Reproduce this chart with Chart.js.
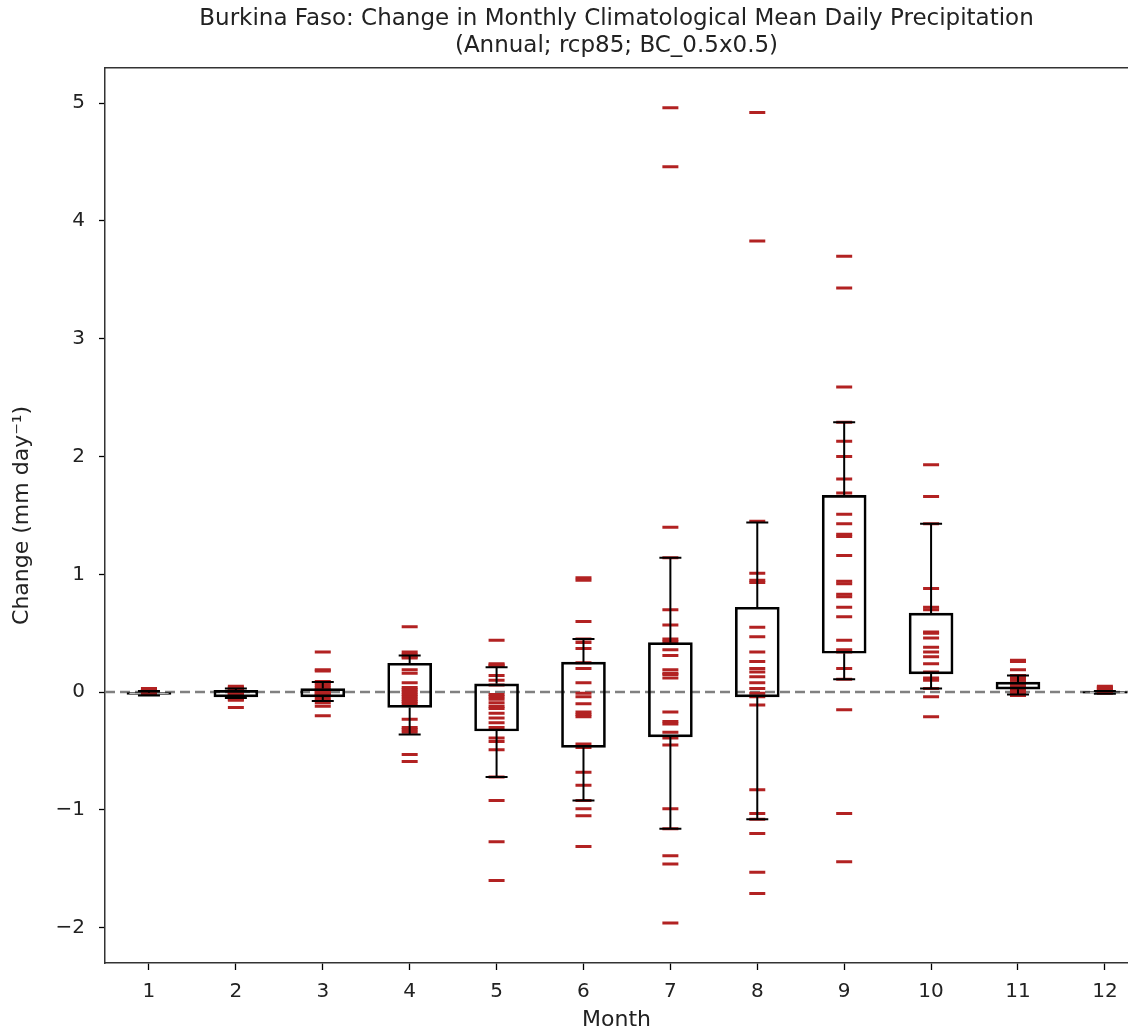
<!DOCTYPE html>
<html>
<head>
<meta charset="utf-8">
<title>Burkina Faso precipitation change</title>
<script src="https://cdn.jsdelivr.net/npm/chart.js@4"></script>
<style>
  html, body { margin: 0; padding: 0; background: #fff; overflow: hidden; }
  #wrap { width: 1128px; height: 1034px; }
</style>
</head>
<body>
<div id="wrap"><canvas id="precipChart" width="1128" height="1034"></canvas></div>
<script>
const months = [1, 2, 3, 4, 5, 6, 7, 8, 9, 10, 11, 12];
const yTicks = [-2, -1, 0, 1, 2, 3, 4, 5];

// box edges (25th / 75th) and whisker ends
const boxLow = [-0.02, -0.04, -0.04, -0.13, -0.33, -0.47, -0.38, -0.04, 0.33, 0.155, 0.025, -0.01];
const boxHigh = [-0.005, 0.015, 0.03, 0.245, 0.07, 0.255, 0.42, 0.72, 1.67, 0.67, 0.085, 0.005];
const whiskerLow = [-0.03, -0.05, -0.075, -0.36, -0.72, -0.92, -1.16, -1.08, 0.11, 0.03, -0.02, -0.015];
const whiskerHigh = [0.01, 0.03, 0.085, 0.31, 0.21, 0.45, 1.14, 1.44, 2.29, 1.43, 0.14, 0.01];

// individual model changes per month
const jan = [0.03, 0.02, 0.02, 0.01, 0.01, 0.0, 0.0, -0.01, -0.01, -0.02, 0.02, 0.01, 0.03];
const feb = [0.05, 0.04, 0.03, 0.02, 0.01, 0.0, -0.01, -0.02, -0.03, -0.04, -0.05, -0.06, -0.07, -0.13, 0.02, 0.0, -0.02];
const mar = [0.34, 0.19, 0.18, 0.09, 0.08, 0.06, 0.04, 0.02, 0.0, -0.01, -0.03, -0.05, -0.07, -0.09, -0.12, -0.2, 0.01, -0.02];
const apr = [0.555, 0.34, 0.32, 0.3, 0.29, 0.19, 0.16, 0.08, 0.04, 0.02, 0.0, -0.02, -0.04, -0.06, -0.08, -0.1, -0.23, -0.3, -0.32, -0.34, -0.53, -0.59];
const may = [0.44, 0.24, 0.23, 0.22, 0.14, 0.1, 0.06, -0.02, -0.04, -0.06, -0.09, -0.12, -0.14, -0.18, -0.22, -0.26, -0.3, -0.39, -0.42, -0.49, -0.72, -0.92, -1.27, -1.6];
const jun = [0.97, 0.95, 0.6, 0.45, 0.42, 0.37, 0.25, 0.2, 0.08, -0.01, -0.04, -0.1, -0.17, -0.19, -0.21, -0.44, -0.47, -0.68, -0.79, -0.92, -0.99, -1.05, -1.31];
const jul = [4.96, 4.46, 1.4, 1.14, 0.7, 0.57, 0.45, 0.43, 0.36, 0.31, 0.19, 0.16, 0.15, 0.12, -0.17, -0.25, -0.27, -0.34, -0.39, -0.45, -0.99, -1.16, -1.39, -1.46, -1.96];
const aug = [4.92, 3.83, 1.45, 1.01, 0.95, 0.93, 0.55, 0.47, 0.34, 0.26, 0.2, 0.17, 0.13, 0.08, 0.03, -0.01, -0.04, -0.11, -0.83, -1.03, -1.08, -1.2, -1.53, -1.71];
const sep = [3.7, 3.43, 2.59, 2.29, 2.13, 2.0, 1.81, 1.69, 1.51, 1.43, 1.34, 1.32, 1.16, 0.94, 0.92, 0.83, 0.81, 0.72, 0.64, 0.44, 0.36, 0.34, 0.2, 0.11, -0.15, -1.03, -1.44];
const oct = [1.93, 1.66, 1.43, 0.88, 0.72, 0.7, 0.51, 0.5, 0.46, 0.38, 0.34, 0.3, 0.24, 0.17, 0.12, 0.1, 0.03, -0.04, -0.21];
const nov = [0.27, 0.26, 0.19, 0.14, 0.12, 0.1, 0.08, 0.06, 0.04, 0.02, 0.0, -0.02, -0.03];
const dec = [0.05, 0.04, 0.03, 0.02, 0.01, 0.0, -0.01];
const memberValues = [jan, feb, mar, apr, may, jun, jul, aug, sep, oct, nov, dec];

const textColor = "#222222";
const minusSign = (v) => String(v).replace("-", "\u2212");

const memberPoints = memberValues.flatMap((vals, i) =>
  vals.map((v) => ({ x: months[i], y: v }))
);
const boxes = months.map((m, i) => ({ x: m, y: [boxLow[i], boxHigh[i]] }));

// dashed zero line, top frame and whiskers
const extras = {
  id: "extras",
  beforeDatasetsDraw(chart) {
    const { ctx, chartArea, scales } = chart;
    const y0 = scales.y.getPixelForValue(0);
    ctx.save();
    ctx.strokeStyle = "#808080";
    ctx.lineWidth = 2.5;
    ctx.setLineDash([10, 5]);
    ctx.beginPath();
    ctx.moveTo(chartArea.left, y0);
    ctx.lineTo(chartArea.right, y0);
    ctx.stroke();
    ctx.restore();
  },
  afterDatasetsDraw(chart) {
    const { ctx, chartArea, scales } = chart;
    ctx.save();
    ctx.strokeStyle = "#000";
    ctx.lineWidth = 2;
    months.forEach((m, i) => {
      const x = scales.x.getPixelForValue(m);
      const lo = scales.y.getPixelForValue(whiskerLow[i]);
      const hi = scales.y.getPixelForValue(whiskerHigh[i]);
      const bLo = scales.y.getPixelForValue(boxLow[i]);
      const bHi = scales.y.getPixelForValue(boxHigh[i]);
      ctx.beginPath();
      ctx.moveTo(x, bHi);
      ctx.lineTo(x, hi);
      ctx.moveTo(x, bLo);
      ctx.lineTo(x, lo);
      ctx.moveTo(x - 11, hi);
      ctx.lineTo(x + 11, hi);
      ctx.moveTo(x - 11, lo);
      ctx.lineTo(x + 11, lo);
      ctx.stroke();
    });
    ctx.strokeStyle = "#333";
    ctx.lineWidth = 1.5;
    ctx.beginPath();
    ctx.moveTo(chartArea.left, chartArea.top);
    ctx.lineTo(chartArea.right, chartArea.top);
    ctx.stroke();
    ctx.restore();
  },
};

const ctx = document.getElementById("precipChart").getContext("2d");

new Chart(ctx, {
  type: "scatter",
  data: {
    datasets: [
      {
        type: "bar",
        label: "Inter-quartile range",
        data: boxes,
        backgroundColor: "rgba(0, 0, 0, 0)",
        borderColor: "#000",
        borderWidth: 2,
        borderSkipped: false,
        barThickness: 44,
        order: 0,
      },
      {
        type: "scatter",
        label: "Models",
        data: memberPoints,
        pointStyle: "line",
        radius: 8,
        borderWidth: 3,
        borderColor: "#B22222",
        backgroundColor: "#B22222",
        order: 1,
      },
    ],
  },
  plugins: [extras],
  options: {
    responsive: false,
    animation: false,
    events: [],
    layout: { autoPadding: false, padding: { left: 0, right: 0, top: 0, bottom: 0 } },
    plugins: {
      legend: { display: false },
      tooltip: { enabled: false },
      title: {
        display: true,
        fullSize: false,
        text: [
          "Burkina Faso: Change in Monthly Climatological Mean Daily Precipitation",
          "(Annual; rcp85; BC_0.5x0.5)",
        ],
        color: textColor,
        font: { family: "DejaVu Sans", size: 23, weight: "normal", lineHeight: 1.17 },
        padding: { top: 6, bottom: 8 },
      },
    },
    scales: {
      x: {
        type: "linear",
        min: 0.494,
        max: 12.266,
        offset: false,
        afterBuildTicks: (axis) => {
          axis.ticks = months.map((m) => ({ value: m }));
        },
        afterFit: (axis) => {
          axis.height = 71;
          axis.paddingRight = 0;
        },
        ticks: {
          color: textColor,
          font: { family: "DejaVu Sans", size: 20 },
          padding: 10,
          maxRotation: 0,
        },
        grid: {
          display: true,
          offset: false,
          drawOnChartArea: false,
          drawTicks: true,
          tickLength: 7,
          tickWidth: 1.3,
          color: "#000",
        },
        border: { display: true, color: "#333", width: 1.5 },
        title: {
          display: true,
          text: "Month",
          color: textColor,
          font: { family: "DejaVu Sans", size: 22 },
          padding: { top: 0, bottom: 1 },
        },
      },
      y: {
        min: -2.3,
        max: 5.3,
        afterBuildTicks: (axis) => {
          axis.ticks = yTicks.map((v) => ({ value: v }));
        },
        afterFit: (axis) => {
          axis.width = 105;
        },
        ticks: {
          color: textColor,
          font: { family: "DejaVu Sans", size: 20 },
          padding: 14,
          callback: minusSign,
        },
        grid: {
          display: true,
          drawOnChartArea: false,
          drawTicks: true,
          tickLength: 6,
          tickWidth: 1.3,
          color: "#000",
        },
        border: { display: true, color: "#333", width: 1.5 },
        title: {
          display: true,
          text: "Change (mm day\u207B\u00B9)",
          color: textColor,
          font: { family: "DejaVu Sans", size: 22 },
          padding: { top: 9, bottom: 0 },
        },
      },
    },
  },
});
</script>
</body>
</html>
